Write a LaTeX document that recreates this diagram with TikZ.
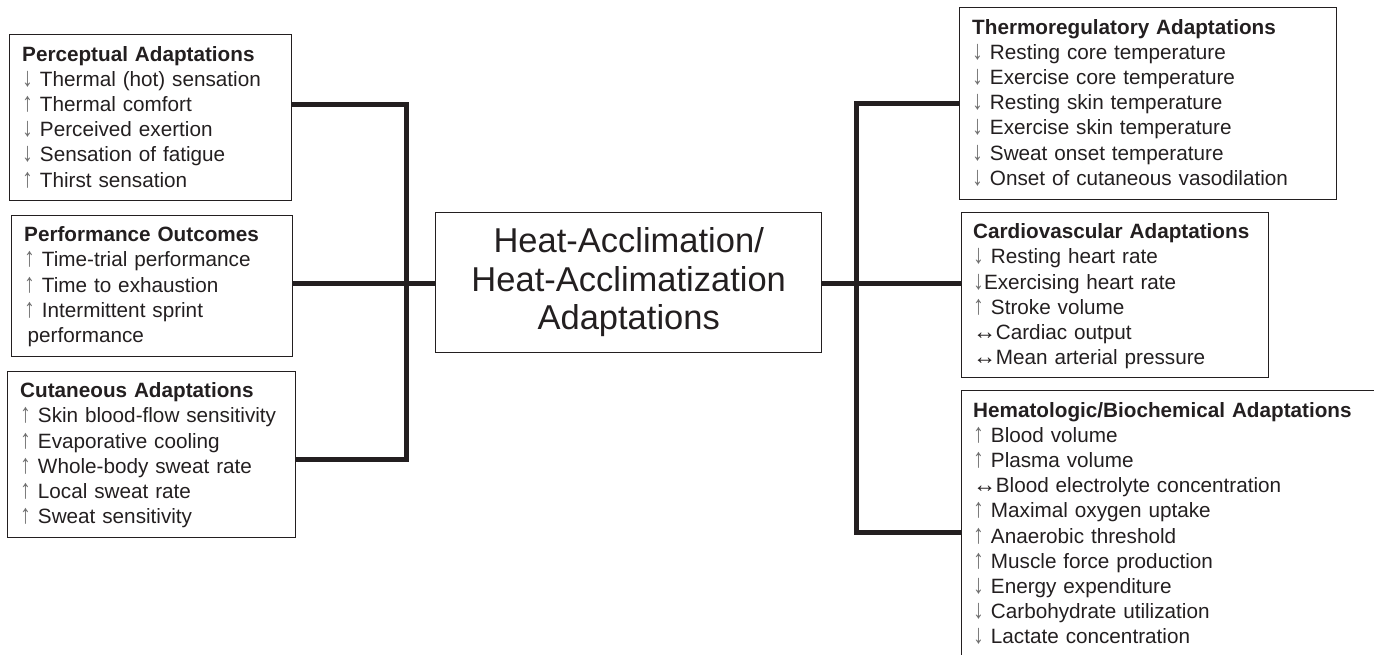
\documentclass[tikz,border=0pt]{standalone}
\usepackage{fontspec}
\usepackage{graphicx}
\setmainfont{Liberation Sans}
\usetikzlibrary{calc}
\definecolor{ink}{RGB}{35,31,32}
\definecolor{arr}{RGB}{110,110,110}
\newcommand{\myup}{{\color{arr}\scalebox{1.05}[1.3]{↑}}}
\newcommand{\mydn}{{\color{arr}\scalebox{1.05}[1.3]{↓}}}
\newcommand{\mylr}{\scalebox{1.12}[1.1]{↔}\kern-0.5pt}
\begin{document}
\begin{tikzpicture}[x=1pt,y=-1pt,
  box/.style={draw=ink, line width=1.4pt, anchor=north west, inner sep=0pt},
  txt/.style={anchor=base west, inner sep=0pt, text width=420pt, align=left, text=ink,
    font=\fontsize{20.7}{25.2}\selectfont},
  conn/.style={draw=ink, line width=5pt, line join=miter}]
\useasboundingbox (0,0) rectangle (1374,654);
\clip (0,0) rectangle (1374,654);

% left boxes
\node[box, minimum width=282pt, minimum height=166pt] (perc) at (9,34) {};
\node[txt] (percT) at ($(perc.north west)+(13,27)$)
  {\textbf{Perceptual Adaptations}\\
   \mydn\ Thermal (hot) sensation\\
   \myup\ Thermal comfort\\
   \mydn\ Perceived exertion\\
   \mydn\ Sensation of fatigue\\
   \myup\ Thirst sensation};

\node[box, minimum width=281pt, minimum height=141pt] (perf) at (11,214.7) {};
\node[txt] (perfT) at ($(perf.north west)+(13,27)$)
  {\textbf{Performance Outcomes}\\
   \myup\ Time-trial performance\\
   \myup\ Time to exhaustion\\
   \myup\ Intermittent sprint\\
   \hspace*{3.5pt}performance};

\node[box, minimum width=288pt, minimum height=166pt] (cut) at (7,370.7) {};
\node[txt] (cutT) at ($(cut.north west)+(13,27)$)
  {\textbf{Cutaneous Adaptations}\\
   \myup\ Skin blood-flow sensitivity\\
   \myup\ Evaporative cooling\\
   \myup\ Whole-body sweat rate\\
   \myup\ Local sweat rate\\
   \myup\ Sweat sensitivity};

% central box
\node[box, minimum width=386pt, minimum height=140pt] (hub) at (435,211.7) {};
\node[align=center, inner sep=0pt, text=ink, font=\fontsize{34.5}{38.5}\selectfont]
  (hubT) at (hub.center) {Heat-Acclimation/\\Heat-Acclimatization\\Adaptations};

% right boxes
\node[box, minimum width=377pt, minimum height=192pt] (thermo) at (959,7) {};
\node[txt] (thermoT) at ($(thermo.north west)+(13,27)$)
  {\textbf{Thermoregulatory Adaptations}\\
   \mydn\ Resting core temperature\\
   \mydn\ Exercise core temperature\\
   \mydn\ Resting skin temperature\\
   \mydn\ Exercise skin temperature\\
   \mydn\ Sweat onset temperature\\
   \mydn\ Onset of cutaneous vasodilation};

\node[box, minimum width=307pt, minimum height=165pt] (cardio) at (961,211.7) {};
\node[txt] (cardioT) at ($(cardio.north west)+(12,27)$)
  {\textbf{Cardiovascular Adaptations}\\
   \mydn\ Resting heart rate\\
   \mydn Exercising heart rate\\
   \myup\ Stroke volume\\
   \mylr Cardiac output\\
   \mylr Mean arterial pressure};

\node[box, minimum width=500pt, minimum height=400pt] (hemo) at (961,390) {};
\node[txt] (hemoT) at ($(hemo.north west)+(12,27)$)
  {\textbf{Hematologic/Biochemical Adaptations}\\
   \myup\ Blood volume\\
   \myup\ Plasma volume\\
   \mylr Blood electrolyte concentration\\
   \myup\ Maximal oxygen uptake\\
   \myup\ Anaerobic threshold\\
   \myup\ Muscle force production\\
   \mydn\ Energy expenditure\\
   \mydn\ Carbohydrate utilization\\
   \mydn\ Lactate concentration};

% connectors
\coordinate (LT) at (406,104.5);
\coordinate (LB) at (406,459);
\coordinate (MID) at (0,283);
\coordinate (RT) at (856,103);
\coordinate (RB) at (856,532);
\draw[conn] (perc.east |- LT) -- (LT) -- (LB) -- (cut.east |- LB);
\draw[conn] (perf.east |- MID) -- (hub.west |- MID);
\draw[conn] (thermo.west |- RT) -- (RT) -- (RB) -- (hemo.west |- RB);
\draw[conn] (hub.east |- MID) -- (cardio.west |- MID);
\end{tikzpicture}
\end{document}
